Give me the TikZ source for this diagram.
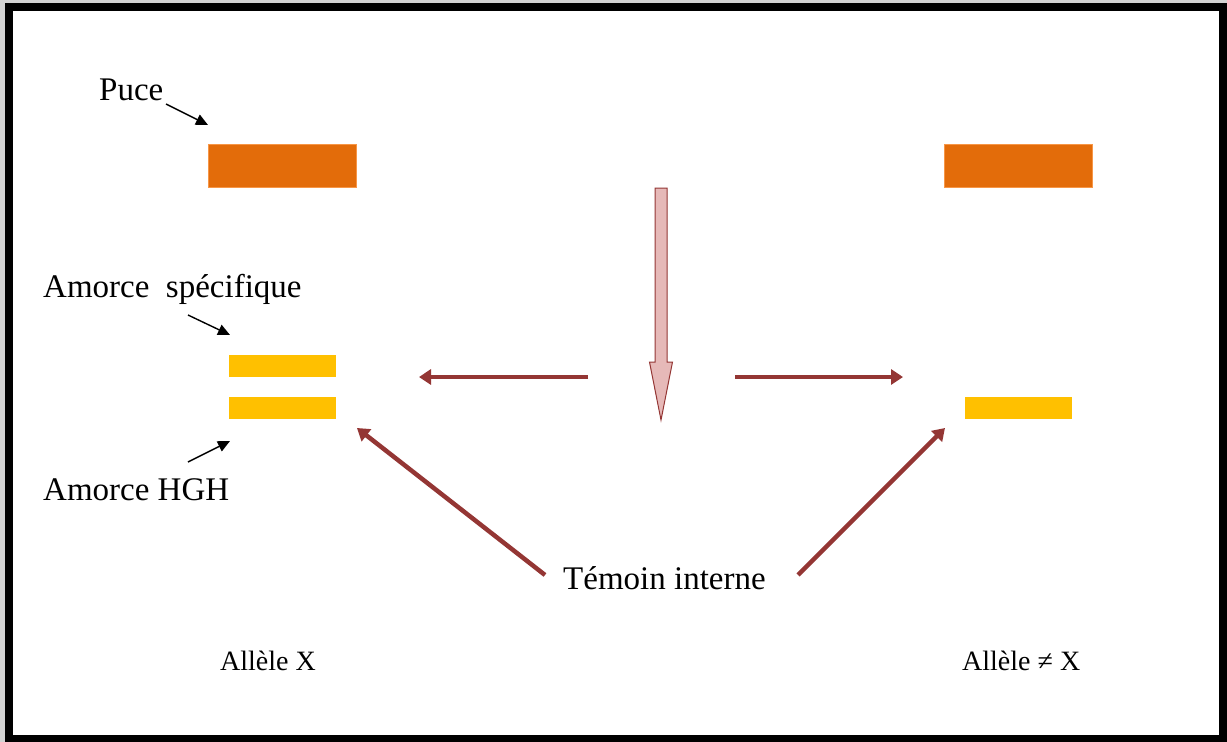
\documentclass[tikz,border=0pt]{standalone}
\usepackage{fontspec}
\setmainfont{Liberation Serif}
\usetikzlibrary{arrows.meta}
\definecolor{puceorange}{HTML}{E36C0A}
\definecolor{puceedge}{HTML}{F79646}
\definecolor{amorceyellow}{HTML}{FFC000}
\definecolor{darkred}{HTML}{943634}
\definecolor{pinkfill}{HTML}{E6B9B8}
\begin{document}
\begin{tikzpicture}[x=1pt,y=-1pt,
  label/.style={inner sep=0pt, anchor=base west, font=\fontsize{33}{40}\selectfont},
  allele/.style={inner sep=0pt, anchor=base west, font=\fontsize{28}{34}\selectfont},
  puce/.style={draw=puceedge, line width=0.8pt, fill=puceorange, inner sep=0pt,
               minimum width=148pt, minimum height=43pt},
  amorce/.style={fill=amorceyellow, inner sep=0pt, minimum width=107pt, minimum height=22pt},
  pointer/.style={draw=black, line width=1.4pt, -{Triangle[length=12pt,width=11pt]}},
  redarrow/.style={draw=darkred, line width=4.5pt, -{Triangle[length=12pt,width=15pt]}}]
\useasboundingbox (0,0) rectangle (1227,742);
% page frame
\fill[gray!35] (0,0) rectangle (1227,742);
\draw[black, line width=8pt, fill=white] (9,7) rectangle (1223,739);

% chips
\node[puce] (puceL) at (282.5,166) {};
\node[puce] (puceR) at (1018.5,166) {};

% primers
\node[amorce] (specL) at (282.5,366) {};
\node[amorce] (hghL) at (282.5,408) {};
\node[amorce] (hghR) at (1018.5,408) {};

% labels
\node[label] (tPuce) at (99,100) {Puce};
\node[label] (tSpec) at (43,297) {Amorce~~spécifique};
\node[label] (tHGH) at (43,500) {Amorce HGH};
\node[label] (tTemoin) at (563,589) {Témoin interne};
\node[allele] (tAlleleX) at (220,670) {Allèle X};
\node[allele] (tAlleleNX) at (962,670) {Allèle ≠ X};

% label pointers
\coordinate (pPuceA) at (166,104);
\coordinate (pPuceB) at (208,125);
\coordinate (pSpecA) at (188,315);
\coordinate (pSpecB) at (230,335);
\coordinate (pHGHA) at (188,462);
\coordinate (pHGHB) at (230,441);
\draw[pointer] (pPuceA) -- (pPuceB);
\draw[pointer] (pSpecA) -- (pSpecB);
\draw[pointer] (pHGHA) -- (pHGHB);

% central hollow arrow
\draw[darkred, line width=1pt, fill=pinkfill, line join=miter]
  (655,188) -- (667,188) -- (667,362) -- (672.5,362) -- (661,420)
  -- (649.5,362) -- (655,362) -- cycle;
\coordinate (center) at (661,377);

% horizontal arrows
\coordinate (hL0) at (588,377);
\coordinate (hL1) at (419,377);
\coordinate (hR0) at (735,377);
\coordinate (hR1) at (903,377);
\draw[redarrow] (hL0) -- (hL1);
\draw[redarrow] (hR0) -- (hR1);

% internal control arrows
\coordinate (dL0) at (545,575);
\coordinate (dL1) at (357,428);
\coordinate (dR0) at (798,575);
\coordinate (dR1) at (945,428);
\draw[redarrow] (dL0) -- (dL1);
\draw[redarrow] (dR0) -- (dR1);
\end{tikzpicture}
\end{document}
